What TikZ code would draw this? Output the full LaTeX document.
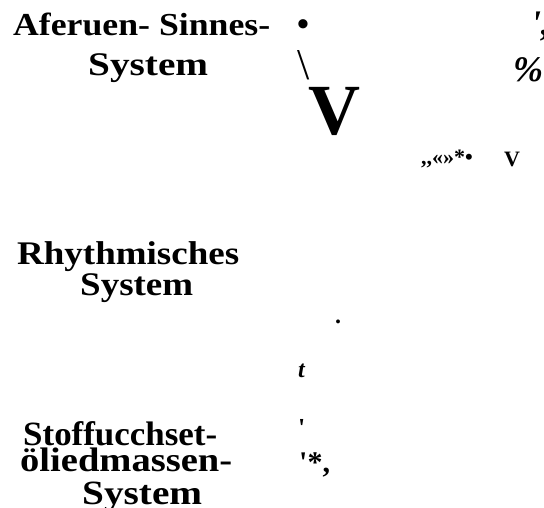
\documentclass[tikz,border=0pt]{standalone}
\usepackage{fontspec}
\usepackage{graphicx}
\setmainfont{Liberation Serif}[Ligatures=TeXOff]
\newcommand{\fitw}[2]{\resizebox{#1pt}{\height}{#2}}
\begin{document}
\begin{tikzpicture}[x=1pt,y=-1pt,
  lbl/.style={inner sep=0pt,anchor=base west,font=\fontsize{33}{33}\selectfont\bfseries},
  glyph/.style={inner sep=0pt,anchor=base west}]
\useasboundingbox (0,0) rectangle (544,508);
% left labels
\node[lbl,font=\fontsize{32}{32}\selectfont\bfseries] (a1) at (13,36) {\fitw{257}{Aferuen- Sinnes-}};
\node[lbl] (a2) at (88,76) {\fitw{120}{System}};
\node[lbl] (r1) at (17,265) {\fitw{222}{Rhythmisches}};
\node[lbl] (r2) at (80,295) {\fitw{113}{System}};
\node[lbl,font=\fontsize{34}{34}\selectfont\bfseries] (s1) at (23,445) {\fitw{194}{Stoffucchset-}};
\node[lbl,font=\fontsize{34}{34}\selectfont\bfseries] (s2) at (20,471) {\fitw{212}{öliedmassen-}};
\node[lbl,font=\fontsize{34}{34}\selectfont\bfseries] (s3) at (82,504) {\fitw{120}{System}};
% scattered glyphs
\node[glyph,font=\fontsize{34}{34}\selectfont\bfseries] (g1) at (297,36) {•};
\node[glyph,font=\fontsize{44}{44}\selectfont] (g2) at (297,80) {\textbackslash};
\node[glyph,font=\fontsize{72}{72}\selectfont\bfseries] (g3) at (308,135) {V};
\node[glyph,font=\fontsize{36}{36}\selectfont\bfseries\itshape] (g4) at (531,36) {',};
\node[glyph,font=\fontsize{36}{36}\selectfont\bfseries\itshape] (g5) at (513,82) {\%};
\node[glyph,font=\fontsize{22}{22}\selectfont\bfseries] (g6) at (421,165) {,,«»*•};
\node[glyph,font=\fontsize{22}{22}\selectfont\bfseries] (g7) at (504,167) {V};
\node[glyph,font=\fontsize{24}{24}\selectfont\bfseries] (g8) at (335,323) {.};
\node[glyph,font=\fontsize{24}{24}\selectfont\bfseries\itshape] (g9) at (298,377) {t};
\node[glyph,font=\fontsize{26}{26}\selectfont\bfseries] (g10) at (298,436) {'};
\node[glyph,font=\fontsize{30}{30}\selectfont\bfseries] (g11) at (299,472) {'*,};
\end{tikzpicture}
\end{document}
